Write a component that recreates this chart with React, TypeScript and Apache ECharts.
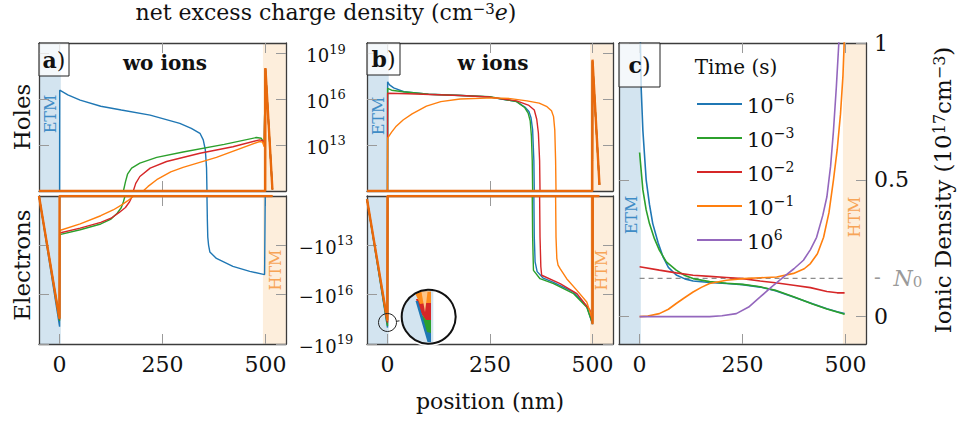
import React, { useEffect, useRef } from 'react';
import * as echarts from 'echarts';

const FONT = '"DejaVu Serif", "Liberation Serif", serif';

// ---- axes / ranges ----
const POSITION_RANGE = [-50, 550];
const POSITION_TICKS = [0, 250, 500];
const ETM_SPAN = [-50, 3];
const HTM_SPAN = [494, 550];
const HOLE_LOG_RANGE = [10, 19.69];
const ELEC_LOG_RANGE = [10, 19];
const LOG_TICKS = [13, 16, 19];
const ION_RANGE = [-0.1, 1];
const ION_TICKS = [0, 0.5, 1];
const N0 = 0.14;

// ---- series names ----
const TIME_NAMES = ['1e-6', '1e-3', '1e-2', '1e-1', '1e6'];
const TIME_EXPONENTS = ['−6', '−3', '−2', '−1', '6'];
const COLORS = ['#1f77b4', '#2ca02c', '#d62728', '#ff7f0e', '#9467bd'];
const STEADY_COLOR = '#e8690c';
const ETM_FILL = '#d3e4f0';
const HTM_FILL = '#fdeedc';

// ---- panel a (wo ions): log10 |net excess charge| vs position (nm) ----
const aHoles_1em6 = [[0, 10], [0.3, 16.6], [20, 16.3], [50, 15.95], [100, 15.55], [150, 15.3], [220, 14.97], [292, 14.43], [320, 14.1], [341, 13.78], [349, 13.35], [354, 12.7], [357, 11.5], [358, 10], [499.5, 10], [500, 18.0], [517, 10.1]];
const aHoles_1em3 = [[0, 10], [155, 10], [160, 10.6], [165, 11.1], [175, 11.5], [195, 11.83], [236, 12.2], [300, 12.55], [400, 13.05], [478, 13.5], [490, 13.45], [497, 13.15], [500, 18.0], [517, 10.1]];
const aHoles_1em2 = [[0, 10], [179, 10], [185, 10.5], [195, 10.95], [220, 11.5], [260, 11.93], [341, 12.47], [421, 12.9], [486, 13.35], [493, 13.3], [497, 13.0], [500, 18.0], [517, 10.1]];
const aHoles_1em1 = [[0, 10], [203, 10], [215, 10.3], [236, 10.74], [270, 11.25], [300, 11.55], [381, 12.2], [486, 13.24], [493, 13.2], [497, 12.9], [500, 18.0], [517, 10.1]];
const aHoles_steady = [[-50, 10], [499.5, 10], [500, 18.05], [517, 10.1]];

const aElec_1em6 = [[-50, 10], [0, 17.95], [0.3, 10], [358, 10], [359, 11.5], [360, 12.5], [362, 13.0], [365, 13.4], [381, 13.8], [421, 14.28], [462, 14.58], [498, 14.78], [499.5, 10]];
const aElec_1em3 = [[-50, 10], [0, 17.6], [0.3, 12.35], [50, 12.05], [100, 11.7], [125, 11.4], [140, 11.05], [150, 10.7], [155, 10.35], [159, 10], [517, 10]];
const aElec_1em2 = [[-50, 10], [0, 17.5], [0.3, 12.25], [50, 11.95], [100, 11.6], [125, 11.35], [145, 11.0], [160, 10.7], [170, 10.35], [177, 10], [517, 10]];
const aElec_1em1 = [[-50, 10], [0, 17.45], [0.3, 12.1], [50, 11.7], [100, 11.2], [130, 10.85], [150, 10.55], [165, 10.3], [180, 10], [517, 10]];
const aElec_steady = [[-50, 10], [-0.5, 17.45], [0, 10], [517, 10]];

// ---- panel b (w ions) ----
const bHoles_1em6 = [[0, 10], [0.3, 17.15], [5, 16.95], [15, 16.75], [40, 16.5], [100, 16.33], [180, 16.25], [250, 16.15], [315, 15.85], [335, 15.5], [345, 15.2], [350, 14.8], [354, 14.0], [357, 12.0], [358, 10], [499.5, 10], [500, 18.5], [517, 10.4]];
const bHoles_1em3 = [[0, 10], [0.3, 16.72], [10, 16.6], [38, 16.5], [100, 16.33], [180, 16.25], [250, 16.17], [315, 15.85], [335, 15.45], [343, 15.1], [348, 14.6], [351, 13.6], [353, 12.0], [354, 10], [499.5, 10], [500, 18.5], [517, 10.4]];
const bHoles_1em2 = [[0, 10], [0.3, 16.4], [50, 16.37], [177, 16.25], [250, 16.15], [315, 15.9], [345, 15.6], [358, 15.3], [364, 14.7], [368, 13.8], [371, 12.0], [372, 10], [499.5, 10], [500, 18.5], [517, 10.4]];
const bHoles_1em1 = [[0, 10], [0.3, 13.46], [10, 13.85], [20, 14.2], [38, 14.65], [60, 15.05], [95, 15.56], [130, 15.85], [177, 16.02], [258, 16.1], [300, 16.05], [340, 15.9], [370, 15.75], [389, 15.52], [400, 15.25], [405, 14.87], [408, 14.0], [410, 12.0], [411, 10], [499.5, 10], [500, 18.5], [517, 10.4]];
const bHoles_steady = [[-50, 10], [499.5, 10], [500, 18.6], [517, 10.4]];

const bElec_1em6 = [[-50, 10.2], [0, 18.0], [0.3, 10], [357, 10], [358, 12.5], [360, 14.0], [365, 14.6], [380, 15.0], [405, 15.25], [454, 15.85], [486, 16.7], [500, 17.8], [500.3, 10]];
const bElec_1em3 = [[-50, 10.2], [0, 17.9], [0.3, 10], [353, 10], [354, 12.5], [356, 14.52], [372, 15.03], [405, 15.33], [454, 15.94], [486, 16.76], [500, 17.76], [500.3, 10]];
const bElec_1em2 = [[-50, 10.2], [0, 17.7], [0.3, 10], [371, 10], [372, 12.5], [374, 14.3], [376, 14.82], [421, 15.33], [462, 15.94], [494, 16.95], [500, 17.7], [500.3, 10]];
const bElec_1em1 = [[-50, 10.2], [0, 17.6], [0.3, 10], [410, 10], [411, 12.5], [413, 13.8], [416, 14.2], [421, 14.42], [437, 15.03], [462, 15.74], [486, 16.45], [500, 17.5], [500.3, 10]];
const bElec_steady = [[-50, 10.2], [-0.5, 17.55], [0, 10], [499.5, 10], [500, 17.8], [500.5, 10], [517, 10]];

// ---- panel c: ionic density (1e17 cm^-3) ----
const c_1em6 = [[0, 1.6], [2, 1.0], [4, 0.83], [8, 0.68], [16, 0.5], [24, 0.41], [32, 0.34], [45, 0.27], [57, 0.218], [70, 0.18], [89, 0.152], [110, 0.138], [130, 0.13], [170, 0.125], [211, 0.121], [250, 0.117], [293, 0.108], [330, 0.095], [374, 0.072], [420, 0.047], [455, 0.029], [480, 0.018], [498, 0.011]];
const c_1em3 = [[0, 0.6], [8, 0.463], [16, 0.39], [24, 0.34], [36, 0.285], [48, 0.243], [65, 0.2], [89, 0.17], [110, 0.15], [130, 0.139], [170, 0.128], [211, 0.122], [250, 0.118], [293, 0.109], [330, 0.096], [374, 0.073], [420, 0.046], [455, 0.028], [480, 0.017], [498, 0.009]];
const c_1em2 = [[0, 0.182], [48, 0.17], [89, 0.16], [130, 0.151], [170, 0.147], [211, 0.143], [250, 0.139], [293, 0.13], [330, 0.124], [374, 0.115], [415, 0.106], [455, 0.092], [480, 0.087], [498, 0.087]];
const c_1em1 = [[0, 0], [20, 0.002], [48, 0.011], [70, 0.027], [89, 0.048], [110, 0.07], [130, 0.09], [150, 0.107], [170, 0.121], [211, 0.133], [252, 0.139], [293, 0.142], [333, 0.145], [374, 0.158], [400, 0.175], [415, 0.194], [432, 0.23], [447, 0.29], [460, 0.38], [471, 0.5], [480, 0.61], [488, 0.74], [494, 0.88], [497, 1.0], [500, 1.15]];
const c_1e6 = [[0, 0], [170, 0], [200, 0.003], [235, 0.011], [265, 0.035], [293, 0.072], [320, 0.108], [350, 0.145], [375, 0.175], [398, 0.206], [415, 0.245], [430, 0.29], [445, 0.37], [455, 0.438], [464, 0.55], [471, 0.68], [478, 0.84], [484, 1.0], [488, 1.15]];
const N0_LINE = [[0, N0], [500, N0]];

const GRIDS = [
  { left: 39, top: 43, width: 247, height: 148 },
  { left: 39, top: 196, width: 247, height: 148 },
  { left: 367, top: 43, width: 246, height: 148 },
  { left: 367, top: 196, width: 246, height: 148 },
  { left: 619, top: 43, width: 247, height: 301 },
];

const AXIS_LINE = { color: '#3c3c3c', width: 1.3 };
const TICK_LINE = { color: '#9a9a9a', width: 1 };
const SUP_RICH = {
  b: { fontSize: 18, lineHeight: 22, verticalAlign: 'bottom', fontFamily: FONT, color: '#111' },
  s: { fontSize: 13, lineHeight: 12, verticalAlign: 'top', fontFamily: FONT, color: '#111' },
};

function xAxes(gi: number, showLabels: boolean) {
  const base: any = {
    type: 'value', gridIndex: gi, min: POSITION_RANGE[0], max: POSITION_RANGE[1], z: 3,
    splitLine: { show: false },
    axisLine: { show: true, onZero: false, lineStyle: AXIS_LINE },
    axisTick: { show: true, inside: true, length: 10, customValues: POSITION_TICKS, lineStyle: TICK_LINE },
  };
  return [
    { ...base, position: 'bottom', axisLabel: { show: showLabels, customValues: POSITION_TICKS, fontSize: 22, fontFamily: FONT, color: '#111', margin: 9 } },
    { ...base, position: 'top', axisLabel: { show: false } },
  ];
}

function yAxes(gi: number, range: number[], inverse: boolean, ticks: number[], rightLabel: any) {
  const base: any = {
    type: 'value', gridIndex: gi, min: range[0], max: range[1], inverse, z: 3,
    splitLine: { show: false },
    axisLine: { show: true, onZero: false, lineStyle: AXIS_LINE },
    axisTick: { show: true, inside: true, length: 10, customValues: ticks, lineStyle: TICK_LINE },
  };
  return [
    { ...base, position: 'left', axisLabel: { show: false } },
    { ...base, position: 'right', axisLabel: rightLabel || { show: false } },
  ];
}

function line(name: string, color: string, data: number[][], gi: number, width = 1.4, z = 4) {
  return {
    type: 'line', name, data, xAxisIndex: 2 * gi, yAxisIndex: 2 * gi, symbol: 'none',
    lineStyle: { color, width }, itemStyle: { color }, z, clip: true, silent: true,
  };
}

function shade(gi: number) {
  return {
    type: 'custom', xAxisIndex: 2 * gi, yAxisIndex: 2 * gi, z: 1, silent: true,
    data: [[ETM_SPAN[0], ETM_SPAN[1], 0], [HTM_SPAN[0], HTM_SPAN[1], 1]],
    encode: { x: [0, 1] },
    renderItem: (params: any, api: any) => {
      const cs = params.coordSys;
      const x0 = api.coord([api.value(0), 0])[0];
      const x1 = api.coord([api.value(1), 0])[0];
      return {
        type: 'rect',
        shape: { x: x0, y: cs.y, width: x1 - x0, height: cs.height },
        style: { fill: api.value(2) === 0 ? ETM_FILL : HTM_FILL },
      };
    },
  };
}

function buildOption() {
  const xAxis: any[] = [];
  const yAxis: any[] = [];
  const holesLabel = {
    show: true, customValues: LOG_TICKS, align: 'center', margin: 40,
    formatter: (v: number) => `{b|10}{s|${v}}`, rich: SUP_RICH,
  };
  const elecLabel = {
    show: true, customValues: LOG_TICKS, align: 'center', margin: 40,
    formatter: (v: number) => `{b|−10}{s|${v}}`, rich: SUP_RICH,
  };
  const ionLabel = {
    show: true, customValues: [0, N0, 0.5, 1], margin: 8,
    fontSize: 22, fontFamily: FONT, color: '#111',
    formatter: (v: number) => (v === N0 ? '{g|-  }{gi|N}{gs|0}' : String(v)),
    rich: {
      g: { fontSize: 20, color: '#9a9a9a', fontFamily: FONT, lineHeight: 22, verticalAlign: 'top' },
      gi: { fontSize: 22, color: '#9a9a9a', fontStyle: 'italic', fontFamily: FONT, lineHeight: 22, verticalAlign: 'top' },
      gs: { fontSize: 15, color: '#9a9a9a', fontFamily: FONT, lineHeight: 14, verticalAlign: 'bottom' },
    },
  };

  xAxis.push(...xAxes(0, false)); yAxis.push(...yAxes(0, HOLE_LOG_RANGE, false, LOG_TICKS, holesLabel));
  xAxis.push(...xAxes(1, true)); yAxis.push(...yAxes(1, ELEC_LOG_RANGE, true, LOG_TICKS, elecLabel));
  xAxis.push(...xAxes(2, false)); yAxis.push(...yAxes(2, HOLE_LOG_RANGE, false, LOG_TICKS, null));
  xAxis.push(...xAxes(3, true)); yAxis.push(...yAxes(3, ELEC_LOG_RANGE, true, LOG_TICKS, null));
  xAxis.push(...xAxes(4, true)); yAxis.push(...yAxes(4, ION_RANGE, false, ION_TICKS, ionLabel));

  const panelsAB = [
    { gi: 0, sets: [aHoles_1em6, aHoles_1em3, aHoles_1em2, aHoles_1em1], steady: aHoles_steady },
    { gi: 1, sets: [aElec_1em6, aElec_1em3, aElec_1em2, aElec_1em1], steady: aElec_steady },
    { gi: 2, sets: [bHoles_1em6, bHoles_1em3, bHoles_1em2, bHoles_1em1], steady: bHoles_steady },
    { gi: 3, sets: [bElec_1em6, bElec_1em3, bElec_1em2, bElec_1em1], steady: bElec_steady },
  ];
  const series: any[] = [];
  for (let gi = 0; gi < 5; gi++) series.push(shade(gi));
  panelsAB.forEach((p) => {
    p.sets.forEach((d, i) => series.push(line(TIME_NAMES[i], COLORS[i], d, p.gi, 1.4, 4)));
    series.push(line('steady', STEADY_COLOR, p.steady, p.gi, 2.4, 5));
  });
  series.push(line('N0', '#8c8c8c', N0_LINE, 4, 1.2, 3));
  series[series.length - 1].lineStyle.type = [5, 4];
  [c_1em6, c_1em3, c_1em2, c_1em1, c_1e6].forEach((d, i) => series.push(line(TIME_NAMES[i], COLORS[i], d, 4, 1.6, 4)));

  const txt = (x: number, y: number, text: string, extra: any = {}, rot = 0, z = 20) => ({
    type: 'text', x, y, rotation: rot, z, silent: true,
    style: { text, fontFamily: FONT, fontSize: 22, fill: '#111', align: 'center', verticalAlign: 'middle', ...extra },
  });
  const supRich = (size: number) => ({
    s: { fontSize: Math.round(size * 0.68), lineHeight: Math.round(size * 0.6), verticalAlign: 'top', fontFamily: FONT, fill: '#111' },
    i: { fontSize: size, fontStyle: 'italic', fontFamily: FONT, fill: '#111', lineHeight: size, verticalAlign: 'bottom' },
    b: { fontSize: size, fontFamily: FONT, fill: '#111', lineHeight: size, verticalAlign: 'bottom' },
  });
  const boxRich = {
    k: { fontSize: 22, fontWeight: 'bold', fontFamily: FONT, fill: '#111' },
    b: { fontSize: 22, fontFamily: FONT, fill: '#111' },
  };

  // magnifier inset (decoration)
  const IC = { cx: 428.7, cy: 316.7, r: 27 };
  const edgeX = 433.3;
  const phi0 = Math.acos((edgeX - IC.cx) / IC.r);
  const seg: number[][] = [];
  for (let k = 0; k <= 40; k++) {
    const ph = phi0 + (k / 40) * (2 * Math.PI - 2 * phi0);
    seg.push([IC.cx + IC.r * Math.cos(ph), IC.cy + IC.r * Math.sin(ph)]);
  }

  const graphic: any[] = [
    txt(326, 12, '{b|net excess charge density (cm}{s|−3}{i|e}{b|)}', { rich: supRich(22) }),
    txt(490, 401, 'position (nm)'),
    txt(22, 117, 'Holes', { fontSize: 23 }, Math.PI / 2),
    txt(22, 265, 'Electrons', { fontSize: 23 }, Math.PI / 2),
    txt(943, 190, '{b|Ionic Density (10}{s|17}{b|cm}{s|−3}{b|)}', { rich: supRich(23) }, Math.PI / 2),
    txt(165, 63, 'wo ions', { fontWeight: 'bold', fontSize: 20 }),
    txt(493, 63, 'w ions', { fontWeight: 'bold', fontSize: 20 }),
    txt(50, 114, 'ETM', { fontSize: 16, fill: '#3f8cc6' }, Math.PI / 2, 2),
    txt(378, 116, 'ETM', { fontSize: 16, fill: '#3f8cc6' }, Math.PI / 2, 2),
    txt(631.5, 215, 'ETM', { fontSize: 16, fill: '#3f8cc6' }, Math.PI / 2, 2),
    txt(275, 270, 'HTM', { fontSize: 16, fill: '#f7a456' }, Math.PI / 2, 2),
    txt(601, 270, 'HTM', { fontSize: 16, fill: '#f7a456' }, Math.PI / 2, 2),
    txt(854, 217, 'HTM', { fontSize: 16, fill: '#f7a456' }, Math.PI / 2, 2),
    txt(736, 67, 'Time (s)', { fontSize: 20 }),
    { type: 'rect', z: 30, silent: true, shape: { x: 39, y: 43, width: 30, height: 33 }, style: { fill: 'rgba(255,255,255,0.75)', stroke: '#222', lineWidth: 1 } },
    { type: 'rect', z: 30, silent: true, shape: { x: 367, y: 43, width: 33, height: 32 }, style: { fill: 'rgba(255,255,255,0.75)', stroke: '#222', lineWidth: 1 } },
    { type: 'rect', z: 30, silent: true, shape: { x: 619, y: 43, width: 41, height: 44 }, style: { fill: 'rgba(255,255,255,0.75)', stroke: '#222', lineWidth: 1 } },
    txt(54, 60, '{k|a}{b|)}', { rich: boxRich }, 0, 31),
    txt(383.5, 59, '{k|b}{b|)}', { rich: boxRich }, 0, 31),
    txt(639.5, 65, '{k|c}{b|)}', { rich: boxRich }, 0, 31),
    // inset
    { type: 'circle', z: 40, silent: true, shape: { cx: 387.5, cy: 322.5, r: 9 }, style: { fill: 'none', stroke: '#222', lineWidth: 1 } },
    { type: 'line', z: 40, silent: true, shape: { x1: 396.4, y1: 321.3, x2: 402, y2: 320.4 }, style: { stroke: '#222', lineWidth: 1 } },
    { type: 'circle', z: 40, silent: true, shape: { cx: IC.cx, cy: IC.cy, r: IC.r }, style: { fill: '#fff' } },
    { type: 'polygon', z: 41, silent: true, shape: { points: seg }, style: { fill: ETM_FILL } },
    { type: 'polygon', z: 42, silent: true, shape: { points: [[416, 299], [431, 299], [431, 321], [426, 321], [419, 310]] }, style: { fill: '#d62728' } },
    { type: 'polygon', z: 42, silent: true, shape: { points: [[415.5, 294], [421.5, 291.5], [431, 291.5], [431, 303], [426, 303], [420, 304]] }, style: { fill: '#ff8c1a' } },
    { type: 'polygon', z: 43, silent: true, shape: { points: [[421.5, 292], [427.5, 292], [425, 312]] }, style: { fill: '#fcc58a' } },
    { type: 'polygon', z: 42, silent: true, shape: { points: [[420, 312], [426, 320], [431, 320], [431, 334], [426, 334]] }, style: { fill: '#2ca02c' } },
    { type: 'polygon', z: 42, silent: true, shape: { points: [[415.5, 301], [418, 301], [427, 332], [431, 333], [431, 342], [427.5, 342]] }, style: { fill: '#1f77b4' } },
    { type: 'ring', z: 44, silent: true, shape: { cx: IC.cx, cy: IC.cy, r: 29.5, r0: IC.r }, style: { fill: '#fff' } },
    { type: 'circle', z: 45, silent: true, shape: { cx: IC.cx, cy: IC.cy, r: IC.r }, style: { fill: 'none', stroke: '#111', lineWidth: 2 } },
  ];

  return {
    animation: false,
    backgroundColor: '#fff',
    textStyle: { fontFamily: FONT },
    grid: GRIDS.map((g) => ({ ...g, containLabel: false })),
    xAxis,
    yAxis,
    legend: {
      data: TIME_NAMES, orient: 'vertical', left: 692, top: 87, itemWidth: 45, itemHeight: 2.2, itemGap: 10,
      icon: 'rect', selectedMode: false,
      formatter: (n: string) => `{b|10}{s|${TIME_EXPONENTS[TIME_NAMES.indexOf(n)]}}`,
      textStyle: {
        fontFamily: FONT, fontSize: 21, color: '#111',
        rich: {
          b: { fontSize: 21, lineHeight: 24, verticalAlign: 'bottom', fontFamily: FONT, color: '#111' },
          s: { fontSize: 14, lineHeight: 12, verticalAlign: 'top', fontFamily: FONT, color: '#111' },
        },
      },
    },
    series,
    graphic,
  };
}

export default function App() {
  const ref = useRef<HTMLDivElement>(null);
  useEffect(() => {
    document.body.style.margin = '0';
    const chart = echarts.init(ref.current!, null, { renderer: 'svg' });
    chart.setOption(buildOption() as any);
    return () => chart.dispose();
  }, []);
  return <div ref={ref} style={{ width: 963, height: 425 }} />;
}
